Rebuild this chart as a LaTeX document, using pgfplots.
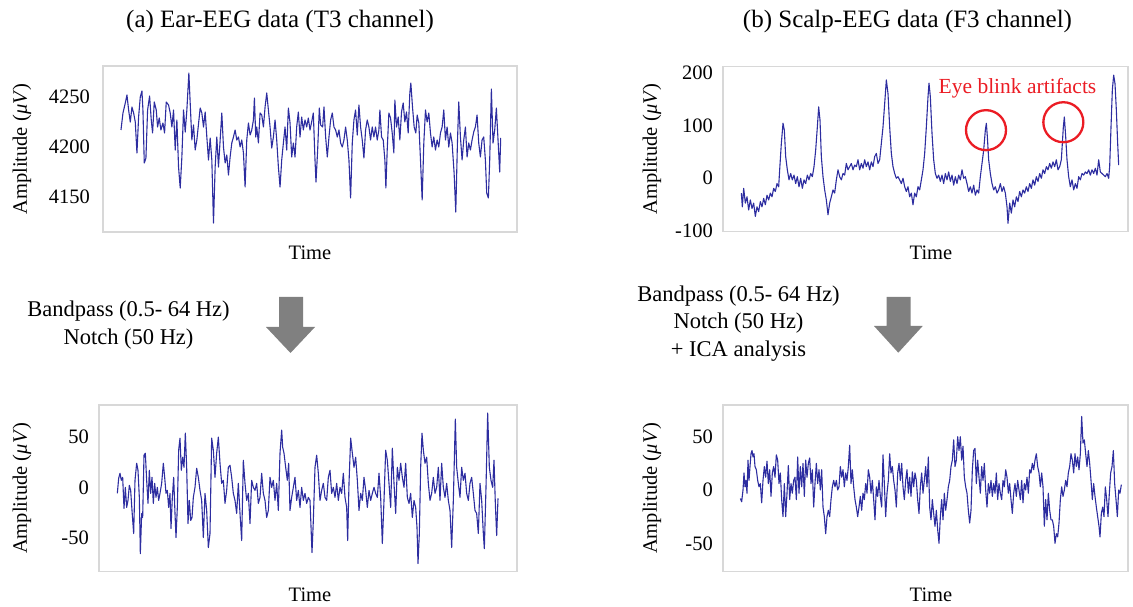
\documentclass[border=0pt]{standalone}
\usepackage{pgfplots}
\usepackage{pgfplotstable}
\pgfplotsset{compat=1.18}
\usepackage{fontspec}
\setmainfont{Liberation Serif}
\definecolor{boxgray}{RGB}{216,216,216}
\definecolor{sig}{RGB}{45,45,160}
\definecolor{arrowgray}{RGB}{128,128,128}
\definecolor{blink}{RGB}{235,28,36}
\newcommand\tickfont{\fontsize{20.5bp}{24bp}\selectfont}
\newcommand\labfont{\fontsize{20.5bp}{24bp}\selectfont}
\newcommand\titfont{\fontsize{25bp}{30bp}\selectfont}
\newcommand\procfont{\fontsize{22.5bp}{27bp}\selectfont}

\pgfplotstableread{
x y
62 4217
68 4234
75 4244
80 4252
85 4237
90 4225
95 4240
100 4234
105 4225
110 4194
115 4230
120 4250
125 4256
128 4237
132 4184
137 4189
142 4237
148 4251
153 4227
157 4214
162 4245
168 4237
172 4220
177 4229
182 4217
188 4224
193 4214
198 4245
205 4242
210 4234
215 4220
220 4237
225 4197
230 4227
235 4180
240 4159
245 4190
250 4237
255 4215
260 4237
266 4274
270 4244
275 4207
280 4222
285 4197
290 4207
300 4239
305 4234
310 4220
315 4235
320 4210
325 4187
330 4209
335 4187
340 4124
345 4180
350 4210
355 4180
360 4207
365 4234
370 4200
375 4184
380 4192
385 4172
390 4190
395 4204
400 4210
405 4217
410 4207
415 4210
420 4200
425 4207
430 4194
435 4160
440 4207
445 4224
450 4212
455 4217
460 4227
463 4249
467 4210
470 4220
475 4204
480 4234
485 4232
490 4220
495 4240
500 4254
505 4237
510 4220
515 4199
520 4210
525 4227
530 4207
535 4180
540 4160
545 4187
550 4204
555 4220
560 4197
565 4239
570 4224
575 4190
580 4204
585 4190
590 4220
595 4235
600 4210
605 4230
610 4217
615 4227
620 4220
625 4229
630 4217
635 4225
640 4234
645 4187
648 4165
653 4197
658 4239
662 4222
668 4220
672 4240
677 4210
682 4190
687 4210
692 4227
697 4234
702 4220
707 4217
712 4210
717 4217
722 4204
727 4200
732 4207
737 4220
742 4207
747 4187
752 4149
757 4204
762 4227
767 4237
772 4212
777 4242
782 4220
787 4207
792 4189
797 4217
802 4227
807 4220
812 4207
817 4220
822 4210
827 4220
832 4207
837 4217
840 4237
845 4210
850 4207
855 4187
858 4159
862 4197
867 4234
872 4229
877 4214
882 4194
885 4247
890 4220
895 4230
900 4207
905 4235
910 4244
915 4225
920 4235
925 4214
930 4254
933 4264
938 4240
943 4220
948 4214
952 4232
957 4224
962 4187
967 4147
972 4204
977 4237
982 4225
987 4234
992 4214
997 4200
1002 4210
1007 4197
1012 4207
1017 4200
1022 4214
1027 4220
1032 4237
1037 4207
1042 4220
1047 4200
1052 4214
1057 4204
1063 4174
1068 4135
1073 4204
1077 4245
1082 4210
1087 4187
1092 4207
1097 4220
1102 4190
1107 4204
1112 4197
1117 4207
1122 4215
1127 4220
1132 4232
1137 4204
1142 4190
1147 4207
1152 4210
1157 4187
1161 4154
1166 4149
1170 4187
1175 4258
1180 4204
1185 4217
1190 4239
1195 4207
1200 4175
1203 4209
}\tableA

\pgfplotstableread{
x y
65 -28
68 -54
72 -19
77 -47
82 -35
87 -60
92 -41
97 -57
102 -47
107 -72
112 -54
117 -63
122 -44
127 -54
132 -38
137 -50
142 -32
147 -41
152 -28
157 -35
162 -19
167 -25
172 -10
177 -16
180 16
185 66
190 104
194 91
198 41
203 16
208 -3
213 9
218 -3
223 6
228 -10
233 3
238 -16
243 0
248 -19
253 -3
258 -10
263 6
268 -3
273 9
278 3
283 22
288 53
293 97
297 135
301 110
305 41
310 3
315 -22
320 -41
325 -69
330 -47
335 -35
340 -22
345 -28
350 -3
355 16
360 3
365 -3
370 9
375 6
380 28
385 16
390 22
395 28
400 16
405 25
410 22
415 35
420 16
425 28
430 19
435 35
440 22
445 31
450 16
455 31
460 22
465 41
470 47
475 28
480 35
485 66
490 97
495 141
500 186
505 160
510 97
515 47
520 22
525 9
530 0
535 3
540 -3
545 -10
550 0
555 -16
560 -25
565 -16
570 -35
575 -28
580 -50
585 -28
590 -35
595 -16
600 -22
605 -3
610 16
615 47
620 97
625 154
628 180
632 154
637 85
642 35
647 9
652 0
657 6
662 -6
667 6
672 -10
677 9
682 -3
687 12
692 -6
697 6
702 -13
707 3
712 -10
717 6
722 -3
727 16
732 0
737 3
742 -10
747 -25
752 -16
757 -28
762 -13
767 -32
772 -22
777 -28
782 3
787 28
792 53
797 91
800 104
803 79
807 35
812 9
817 -10
822 -22
827 -16
832 -28
837 -22
842 -10
847 -25
852 -16
857 -28
862 -54
865 -85
870 -47
875 -66
880 -41
885 -54
890 -35
895 -44
900 -25
905 -35
910 -22
915 -28
920 -16
925 -25
930 -10
935 -19
940 -3
945 -13
950 3
955 -6
960 9
965 0
970 16
975 9
980 22
985 16
990 28
995 19
1000 31
1005 22
1010 35
1015 16
1020 22
1025 35
1028 66
1031 97
1034 116
1038 79
1042 35
1047 3
1052 -16
1057 -3
1062 -22
1067 -10
1072 -19
1077 3
1082 -3
1087 9
1092 6
1097 12
1102 9
1107 16
1112 6
1117 16
1122 9
1127 19
1132 6
1137 35
1142 12
1147 9
1152 6
1157 3
1162 9
1167 0
1170 22
1174 97
1178 167
1182 195
1186 179
1190 129
1194 66
1197 25
}\tableB

\pgfplotstableread{
x y
52 -6
56 9
60 14
64 7
68 10
72 -21
76 0
80 -20
84 -13
88 2
92 -3
96 -23
101 -46
105 7
110 24
114 17
118 -10
121 -66
125 -26
128 -30
132 32
136 34
140 7
144 -16
148 17
152 -6
156 10
160 -16
164 4
168 -10
172 0
176 -13
180 -6
185 4
190 24
194 10
198 -6
202 -3
206 -20
210 -6
213 -41
217 -10
221 10
225 -26
228 -50
232 -20
236 37
240 49
244 17
248 30
252 20
256 54
260 20
264 -36
268 -13
272 -33
276 -30
280 -10
285 0
290 19
295 10
300 -3
305 -13
310 -50
315 -6
320 -23
325 -60
330 -46
335 49
340 37
345 10
350 34
355 50
360 24
365 4
370 7
375 -16
380 -3
385 20
390 22
395 10
400 -6
405 -13
410 -26
415 4
420 -26
425 -53
430 27
435 4
440 -13
445 -6
450 -36
455 7
460 0
465 -3
470 4
475 -16
480 -10
485 14
490 -6
495 -13
500 -30
505 -23
510 10
515 0
520 7
525 -13
530 4
535 -23
540 34
545 57
548 40
552 34
557 20
562 7
566 24
570 -23
575 -10
580 0
585 10
590 -13
595 -3
600 -20
605 0
610 -13
615 -6
620 -16
625 -10
630 -13
636 -65
640 -33
645 20
650 32
655 14
660 -13
665 -3
670 4
675 -10
680 -13
685 10
690 17
695 -6
700 0
705 -10
710 4
715 -13
720 0
725 -6
730 14
735 -10
740 -20
743 -53
747 4
752 49
757 34
762 20
767 30
772 7
777 -23
782 -6
787 -13
792 10
797 -3
802 -20
807 -3
812 -13
817 -6
822 0
827 -6
832 -10
837 14
842 -10
847 -56
852 -13
857 37
862 27
867 4
872 -20
877 39
882 4
887 -26
892 20
897 7
902 24
907 10
912 0
917 24
922 -10
927 -16
932 -6
937 -30
942 -13
947 -20
951 -40
954 -76
958 -46
962 20
966 54
970 37
975 24
980 30
985 4
990 -13
995 -6
1000 10
1005 -6
1010 0
1015 20
1020 -13
1025 24
1030 0
1035 -10
1040 4
1045 -13
1050 -23
1055 -60
1060 -13
1066 68
1070 20
1075 4
1080 -10
1085 20
1090 7
1095 14
1100 -6
1105 -13
1110 4
1115 10
1120 -6
1125 -23
1130 -26
1135 -46
1140 4
1145 -13
1150 -46
1153 -61
1158 0
1163 74
1168 20
1173 7
1178 0
1182 27
1186 -16
1190 -48
1194 -11
}\tableC

\pgfplotstableread{
x y
62 -8
66 -11
70 0
73 16
76 3
79 9
82 -3
85 28
88 9
91 22
94 34
97 37
100 31
103 34
106 22
110 19
114 9
118 3
122 6
126 -12
130 9
134 22
138 12
142 27
146 6
150 19
154 -6
158 16
162 22
166 12
170 33
174 28
178 6
182 16
186 -9
190 -25
194 6
198 -25
202 -3
206 23
210 -9
214 6
218 -3
222 9
226 12
230 -9
234 31
238 -3
242 22
246 3
250 25
254 -6
258 28
262 12
266 25
270 30
274 6
278 19
282 -16
286 6
290 25
294 6
298 19
302 0
306 19
310 -16
314 -25
318 -41
322 -25
326 -19
330 -25
334 -9
338 3
342 9
346 3
350 9
354 0
358 3
362 22
366 12
370 19
374 3
378 16
382 9
386 22
390 42
394 6
398 19
402 3
406 -9
410 -16
414 -25
418 -16
422 -6
426 -19
430 -3
434 -9
438 6
442 -3
446 19
450 12
454 -3
458 9
462 -9
466 -28
470 3
474 -6
478 9
482 -6
486 -16
490 33
494 6
498 -25
502 -3
506 9
510 34
514 16
518 22
522 9
526 0
530 -16
534 16
538 25
542 9
546 25
550 3
554 -9
558 9
562 19
566 -3
570 12
574 -6
578 17
582 3
586 16
590 9
594 -9
598 -22
602 3
606 16
610 -3
614 9
618 22
622 3
626 31
630 -16
634 -28
638 -9
642 -22
646 -34
650 -19
654 -37
658 -50
662 -25
666 -9
670 -28
674 -3
678 -19
682 -9
686 3
690 9
694 22
698 28
702 47
706 22
710 28
714 50
718 37
722 50
726 28
730 41
734 12
738 3
742 -3
746 -19
750 -31
754 -19
758 19
762 37
766 39
770 6
774 28
778 12
782 -3
786 22
790 9
794 25
798 0
802 -16
806 6
810 -3
814 9
818 -6
822 6
826 -3
830 16
834 -9
838 6
842 -3
846 -9
850 9
854 3
858 19
862 12
866 -3
870 6
874 -9
878 -22
882 -3
886 6
890 -6
894 9
898 0
902 -9
906 9
910 -12
914 6
918 0
922 12
926 -3
930 19
934 16
938 25
942 19
946 28
950 34
954 22
958 16
962 3
966 16
970 3
974 -34
978 -9
982 -28
986 -3
990 -19
994 -28
998 -28
1002 -34
1006 -50
1010 -41
1014 -44
1018 -31
1022 -9
1026 3
1030 -6
1034 0
1038 9
1042 3
1046 16
1050 22
1054 34
1058 28
1062 16
1066 34
1070 22
1074 31
1078 19
1082 34
1086 69
1090 44
1094 47
1098 34
1102 22
1106 37
1110 25
1114 9
1118 -9
1122 6
1126 -6
1130 -16
1134 -25
1138 -34
1141 -44
1145 -22
1149 -16
1153 -25
1157 3
1161 -9
1165 -25
1169 -3
1173 16
1177 22
1181 37
1185 6
1189 -9
1193 -25
1197 0
1201 -3
1205 5
}\tableD

\pgfplotsset{
  eeg/.style={
    scale only axis, anchor=south west,
    axis line style={draw=boxgray, line width=1.4bp},
    xtick=\empty, major tick length=0pt,
    tick style={draw=none},
    yticklabel style={font=\tickfont, anchor=east, inner sep=0pt, xshift=-10bp},
    clip=true,
  },
  sigline/.style={color=sig, line width=1.1bp, mark=none, line join=round},
}

\begin{document}
\begin{tikzpicture}
\path[use as bounding box] (0bp,0bp) rectangle (1133bp,607bp);

% (a) top
\begin{axis}[eeg, at={(103bp,375bp)}, width=414bp, height=166bp,
  xmin=8, xmax=1252, ymin=4115, ymax=4281,
  ytick={4150,4200,4250}, yticklabels={4150,4200,4250},
  yticklabel style={xshift=-3bp}]
  \addplot[sigline] table {\tableA};
\end{axis}

% (b) top
\begin{axis}[eeg, at={(723bp,375.3bp)}, width=405bp, height=165bp,
  xmin=10, xmax=1225, ymin=-101, ymax=211,
  ytick={-100,0,100,200}, yticklabels={-100,0,100,200}]
  \addplot[sigline] table {\tableB};
  \draw[blink, line width=2.3bp] (axis cs:799,91) circle[radius=20bp];
  \draw[blink, line width=2.3bp] (axis cs:1031,106) circle[radius=20bp];
\end{axis}

% (a) bottom
\begin{axis}[eeg, at={(99bp,35.3bp)}, width=418bp, height=166.7bp,
  xmin=-3, xmax=1251, ymin=-84, ymax=82,
  ytick={-50,0,50}, yticklabels={-50,0,50}]
  \addplot[sigline] table {\tableC};
\end{axis}

% (b) bottom
\begin{axis}[eeg, at={(723bp,35.3bp)}, width=405bp, height=166.7bp,
  xmin=10, xmax=1225, ymin=-76.6, ymax=79.7,
  ytick={-50,0,50}, yticklabels={-50,0,50}]
  \addplot[sigline] table {\tableD};
\end{axis}

% titles
\node[font=\titfont] at (280bp,586bp) {(a) Ear-EEG data (T3 channel)};
\node[font=\titfont] at (907.5bp,586bp) {(b) Scalp-EEG data (F3 channel)};

% y labels
\node[font=\labfont, rotate=90] at (22bp,458bp) {Amplitude (\textit{μV})};
\node[font=\labfont, rotate=90] at (652bp,458bp) {Amplitude (\textit{μV})};
\node[font=\labfont, rotate=90] at (22bp,118.7bp) {Amplitude (\textit{μV})};
\node[font=\labfont, rotate=90] at (652bp,118.7bp) {Amplitude (\textit{μV})};

% x labels
\node[font=\labfont] at (310bp,354bp) {Time};
\node[font=\labfont] at (931bp,354bp) {Time};
\node[font=\labfont] at (310bp,12bp) {Time};
\node[font=\labfont] at (931bp,12bp) {Time};

% eye blink text
\node[font=\fontsize{21.5bp}{26bp}\selectfont, text=blink] at (1017.5bp,519bp) {Eye blink artifacts};

% processing text
\node[font=\procfont] at (128.5bp,296bp) {Bandpass (0.5- 64 Hz)};
\node[font=\procfont] at (128.5bp,268bp) {Notch (50 Hz)};
\node[font=\procfont] at (738.5bp,311bp) {Bandpass (0.5- 64 Hz)};
\node[font=\procfont] at (738.5bp,283.5bp) {Notch (50 Hz)};
\node[font=\procfont] at (738.5bp,256bp) {+ ICA analysis};

% arrows
\fill[arrowgray] (279bp,310bp) -- (303bp,310bp) -- (303bp,280bp) -- (315bp,280bp)
  -- (290.5bp,254bp) -- (266bp,280bp) -- (279bp,280bp) -- cycle;
\fill[arrowgray] (886.5bp,310bp) -- (910.5bp,310bp) -- (910.5bp,281bp) -- (922.7bp,281bp)
  -- (898.3bp,254.3bp) -- (874bp,281bp) -- (886.5bp,281bp) -- cycle;
\end{tikzpicture}
\end{document}
